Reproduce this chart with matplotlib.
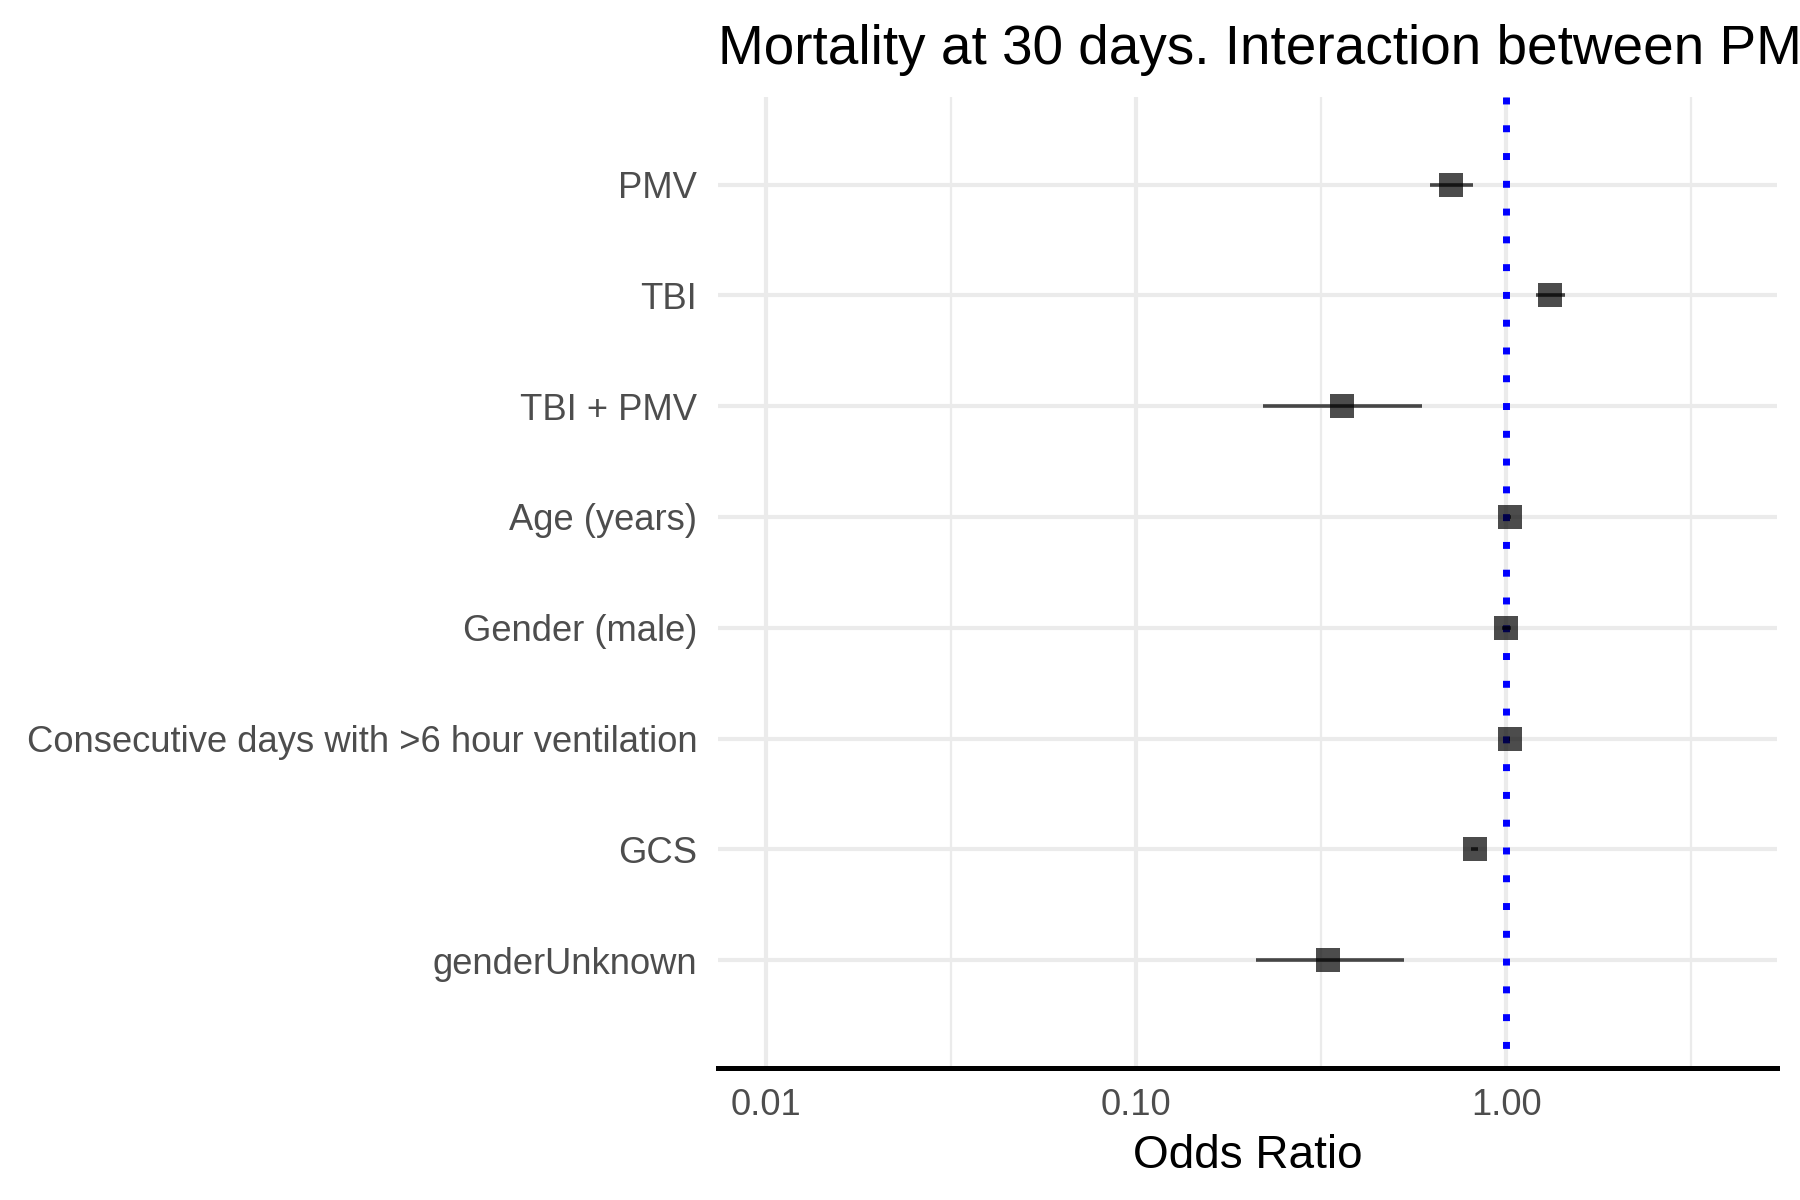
import numpy as np
import matplotlib.pyplot as plt
from matplotlib.ticker import FixedLocator, NullFormatter

plt.rcParams['font.family'] = ['Liberation Sans', 'DejaVu Sans']

# odds ratios and 95% CI
terms = ['PMV', 'TBI', 'TBI + PMV', 'Age (years)', 'Gender (male)',
         'Consecutive days with >6 hour ventilation', 'GCS', 'genderUnknown']
odds = [0.71, 1.31, 0.36, 1.025, 1.00, 1.02, 0.82, 0.33]
ci_low = [0.62, 1.20, 0.22, 1.02, 0.97, 1.015, 0.80, 0.21]
ci_high = [0.81, 1.44, 0.59, 1.03, 1.03, 1.025, 0.84, 0.53]

major_ticks = [0.01, 0.1, 1.0]
major_labels = ['0.01', '0.10', '1.00']
minor_ticks = [10 ** -1.5, 10 ** -0.5, 10 ** 0.5]

fig = plt.figure(figsize=(9, 6), dpi=200)
ax = fig.add_axes([0.399, 0.1098, 0.588, 0.8094])

ypos = np.arange(len(terms))[::-1] + 1
ylim = (0.026, 8.79)

# reference line at OR = 1, drawn top-down so the dots start at the panel top
ax.plot([1, 1], [ylim[1], ylim[0]], color='blue', lw=2.5, ls=(0, (1, 3)),
        dash_capstyle='butt', zorder=2)
ax.hlines(ypos, ci_low, ci_high, color='black', alpha=0.7, lw=1.3, zorder=3)
ax.plot(odds, ypos, 's', color='black', alpha=0.7, ms=8.3, mew=0, zorder=4)

ax.set_xscale('log')
ax.set_xlim(10 ** -2.13, 10 ** 0.73)
ax.set_ylim(*ylim)
ax.xaxis.set_major_locator(FixedLocator(major_ticks))
ax.set_xticklabels(major_labels)
ax.xaxis.set_minor_locator(FixedLocator(minor_ticks))
ax.xaxis.set_minor_formatter(NullFormatter())
ax.set_yticks(ypos)
ax.set_yticklabels(terms)

ax.grid(True, which='major', color='#ebebeb', lw=1.5, zorder=0)
ax.grid(True, which='minor', axis='x', color='#ebebeb', lw=0.8, zorder=0)
ax.set_axisbelow(True)

for s in ['top', 'right', 'left']:
    ax.spines[s].set_visible(False)
ax.spines['bottom'].set_linewidth(1.8)
ax.spines['bottom'].set_color('black')

ax.tick_params(axis='both', which='both', length=0, labelsize=13.1, labelcolor='#4d4d4d')
ax.tick_params(axis='y', pad=7.5)
ax.tick_params(axis='x', pad=7)

ax.set_xlabel('Odds Ratio', fontsize=16.5, labelpad=4)
# title is wider than the figure in the reference and gets clipped at the right edge
fig.text(0.399, 0.947, 'Mortality at 30 days. Interaction between PMV and TBI',
         fontsize=19.75, va='baseline', ha='left')

fig.savefig('out.png', dpi=200)
